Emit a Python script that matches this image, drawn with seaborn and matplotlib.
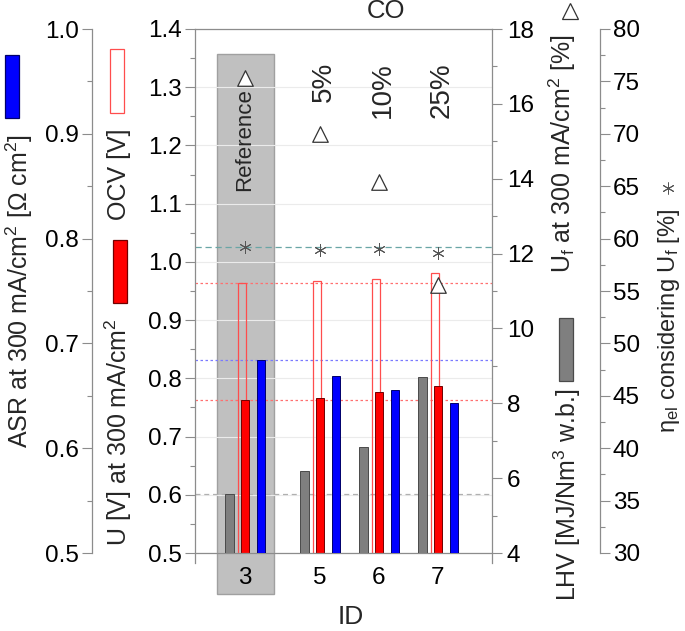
import numpy as np
import pandas as pd
import matplotlib
matplotlib.use("Agg")
import matplotlib.pyplot as plt
import matplotlib.ticker as mticker
import matplotlib.transforms as mtransforms
from matplotlib.patches import Rectangle
from matplotlib.lines import Line2D
import seaborn as sns

# data
ids = ["3", "5", "6", "7"]
co_share = ["Reference", "5%", "10%", "25%"]
lhv = [5.58, 6.18, 6.82, 8.70]          # MJ/Nm3 w.b.
ocv = [0.964, 0.967, 0.971, 0.981]      # V
u_300 = [0.762, 0.767, 0.776, 0.787]    # V at 300 mA/cm2
asr = [0.684, 0.669, 0.656, 0.643]      # Ohm cm2
uf = [16.7, 15.2, 13.9, 11.15]          # %
eta_el = [59.2, 58.9, 59.0, 58.6]       # %

sns.set_style("white")
plt.rcParams["font.family"] = ["Liberation Sans", "DejaVu Sans"]
plt.rcParams["mathtext.fontset"] = "custom"
plt.rcParams["mathtext.rm"] = "Liberation Sans"
plt.rcParams["mathtext.it"] = "Liberation Sans:italic"
plt.rcParams["mathtext.bf"] = "Liberation Sans:bold"

W, H = 685, 631
GRAY = "#8c8c8c"
TICK_FS = 17.5
LAB_FS = 18


def fx(x):
    return x / W


def fy(y):
    return 1 - y / H


# group slots, the reference group sits a bit apart from the others
gap = 0.27
slot = np.arange(len(ids))
pos = slot + gap * (slot > 0)
bar_w = 0.144

df = pd.DataFrame({
    "pos": pos, "lhv": lhv, "ocv": ocv, "u": u_300,
    "asr": asr, "uf": uf, "eta": eta_el,
})

fig = plt.figure(figsize=(6.85, 6.31), dpi=100)
ax = fig.add_axes([fx(195), fy(553), fx(492) - fx(195), fy(29) - fy(553)])
ax_lhv = ax.twinx()
ax_asr = ax.twinx()
ax_eta = ax.twinx()

# shaded reference group
ax.add_patch(Rectangle((pos[0] - 0.475, 0.4293), 0.965, 0.928,
                       facecolor="#c0c0c0", edgecolor="#a0a0a0",
                       linewidth=1, clip_on=False, zorder=0.3))

# bars
sns.barplot(x=df["pos"] - 0.05, y=df["ocv"], native_scale=True, width=bar_w,
            fill=False, color="#ff4d4d", saturation=1, linewidth=0.9,
            errorbar=None, ax=ax)
sns.barplot(x=df["pos"], y=df["u"], native_scale=True, width=bar_w,
            color="#ff0000", saturation=1, edgecolor="#700000", linewidth=0.7,
            errorbar=None, ax=ax)
sns.barplot(x=df["pos"] - 0.26, y=df["lhv"], native_scale=True, width=bar_w,
            color="#7f7f7f", saturation=1, edgecolor="#4a4a4a", linewidth=0.7,
            errorbar=None, ax=ax_lhv)
sns.barplot(x=df["pos"] + 0.275, y=df["asr"], native_scale=True, width=bar_w,
            color="#0000ff", saturation=1, edgecolor="#00006a", linewidth=0.7,
            errorbar=None, ax=ax_asr)

# markers
sns.scatterplot(x=df["pos"], y=df["uf"], marker="^", s=125, color="white",
                edgecolor="#333333", linewidth=0.9, zorder=5, ax=ax_lhv)
sns.scatterplot(x=df["pos"], y=df["eta"], marker=(6, 2, 0), s=70,
                color="#555555", linewidth=0.7, zorder=5, ax=ax_eta)

# reference level lines, all drawn under the bars of the base axes
ref_lines = [
    (ax, ocv[0], "#ff7070", (0, (2, 2))),
    (ax, u_300[0], "#ff7070", (0, (2, 2))),
    (ax_asr, asr[0], "#7a7aff", (0, (2, 2))),
    (ax_lhv, lhv[0], "#b0b0b0", (0, (4, 3))),
    (ax_eta, eta_el[0], "#6aa6a6", (0, (5, 3))),
]
for src, val, col, ls in ref_lines:
    tr = mtransforms.blended_transform_factory(ax.transAxes, src.transData)
    ax.plot([0, 1], [val, val], transform=tr, color=col, linestyle=ls,
            linewidth=0.9, zorder=0.8, scalex=False, scaley=False)

# group annotations
ax.text(pos[0], 1.2107, co_share[0], rotation=90, ha="center", va="center",
        fontsize=16, zorder=3)
for p, s in zip(pos[1:], co_share[1:]):
    ax.text(p + 0.07, 1.343, s, rotation=90, ha="center", va="top",
            fontsize=20, zorder=3)

# limits and ticks
ax.set_xlim(-0.847, 4.186)
ax.set_ylim(0.5, 1.4)
ax_lhv.set_ylim(4, 18)
ax_asr.set_ylim(0.5, 1.0)
ax_eta.set_ylim(30, 80)

ax.set_xticks(pos, ids)
ax.yaxis.set_major_locator(mticker.MultipleLocator(0.1))
ax.yaxis.set_minor_locator(mticker.MultipleLocator(0.05))
ax.yaxis.set_major_formatter(mticker.FormatStrFormatter("%.1f"))
ax_asr.yaxis.set_major_locator(mticker.MultipleLocator(0.1))
ax_asr.yaxis.set_minor_locator(mticker.MultipleLocator(0.05))
ax_asr.yaxis.set_major_formatter(mticker.FormatStrFormatter("%.1f"))
ax_lhv.yaxis.set_major_locator(mticker.MultipleLocator(2))
ax_lhv.yaxis.set_minor_locator(mticker.MultipleLocator(1))
ax_eta.yaxis.set_major_locator(mticker.MultipleLocator(5))
ax_eta.yaxis.set_minor_locator(mticker.MultipleLocator(2.5))

for a in (ax, ax_lhv, ax_asr, ax_eta):
    a.set_xlabel("")
    a.set_ylabel("")
    for sp in a.spines.values():
        sp.set_visible(False)
        sp.set_color(GRAY)
        sp.set_linewidth(0.9)
    a.tick_params(which="major", direction="out", length=7.2, width=0.8,
                  color=GRAY, labelsize=TICK_FS, labelcolor="black")
    a.tick_params(which="minor", direction="out", length=3.6, width=0.8,
                  color=GRAY)

ax.spines["left"].set_visible(True)
ax.spines["top"].set_visible(True)
ax.spines["bottom"].set_visible(True)
ax.spines["left"].set_bounds(0.5 - 10 / 581.1, 1.4)
ax.tick_params(axis="y", which="major", pad=2.5)
ax.tick_params(axis="x", which="major", pad=3)
ax.yaxis.grid(True, color="#ebebeb", linewidth=0.8)
ax.xaxis.grid(False)

ax_lhv.spines["right"].set_visible(True)
ax_lhv.spines["right"].set_bounds(4 - 10 / 37.36, 18)
ax_lhv.tick_params(axis="y", which="major", pad=3.5)

ax_asr.yaxis.tick_left()
ax_asr.spines["left"].set_position(("axes", (92 - 195) / 297))
ax_asr.spines["left"].set_visible(True)
ax_asr.tick_params(axis="y", which="major", pad=2)

ax_eta.spines["right"].set_position(("axes", (600 - 195) / 297))
ax_eta.spines["right"].set_visible(True)
ax_eta.tick_params(axis="y", which="major", pad=2)

ax.set_xlabel("ID", fontsize=19)
ax.xaxis.set_label_coords((351 - 195) / 297, -0.1)

# title
fig.text(fx(386), fy(18), "CO", ha="center", va="baseline", fontsize=18.5)

# axis labels with their legend keys
fig.text(fx(4), fy(291), "ASR at 300 mA/cm$^2$ [Ω cm$^2$]", rotation=90,
         ha="left", va="center", fontsize=LAB_FS)
fig.text(fx(119), fy(174), "OCV [V]", rotation=90,
         ha="center", va="center", fontsize=LAB_FS)
fig.text(fx(118.5), fy(432), "U [V] at 300 mA/cm$^2$", rotation=90,
         ha="center", va="center", fontsize=LAB_FS)
fig.text(fx(562), fy(153.5), "U$_\\mathrm{f}$ at 300 mA/cm$^2$ [%]", rotation=90,
         ha="center", va="center", fontsize=LAB_FS)
fig.text(fx(567.5), fy(495), "LHV [MJ/Nm$^3$ w.b.]", rotation=90,
         ha="center", va="center", fontsize=LAB_FS)
fig.text(fx(669), fy(321), "η$_\\mathrm{el}$ considering U$_\\mathrm{f}$ [%]",
         rotation=90, ha="center", va="center", fontsize=17)

keys = [
    ((5, 55, 19, 118), "#0000ff", "#00006a"),
    ((110, 49, 124, 113), "white", "#ff4d4d"),
    ((113, 240, 127, 303), "#ff0000", "#700000"),
    ((559, 318, 573, 381), "#7f7f7f", "#4a4a4a"),
]
for (x0, y0, x1, y1), fc, ec in keys:
    fig.add_artist(Rectangle((fx(x0), fy(y1)), fx(x1) - fx(x0), fy(y0) - fy(y1),
                             facecolor=fc, edgecolor=ec, linewidth=0.9,
                             transform=fig.transFigure))

fig.add_artist(Line2D([fx(569.5)], [fy(11)], marker="^", markersize=11,
                      markerfacecolor="white", markeredgecolor="#333333",
                      markeredgewidth=0.9, linestyle="none",
                      transform=fig.transFigure))
fig.add_artist(Line2D([fx(668)], [fy(188)], marker=(6, 2, 0), markersize=8.5,
                      color="#555555", markeredgewidth=0.7, linestyle="none",
                      transform=fig.transFigure))

fig.savefig("out.png", dpi=100)
